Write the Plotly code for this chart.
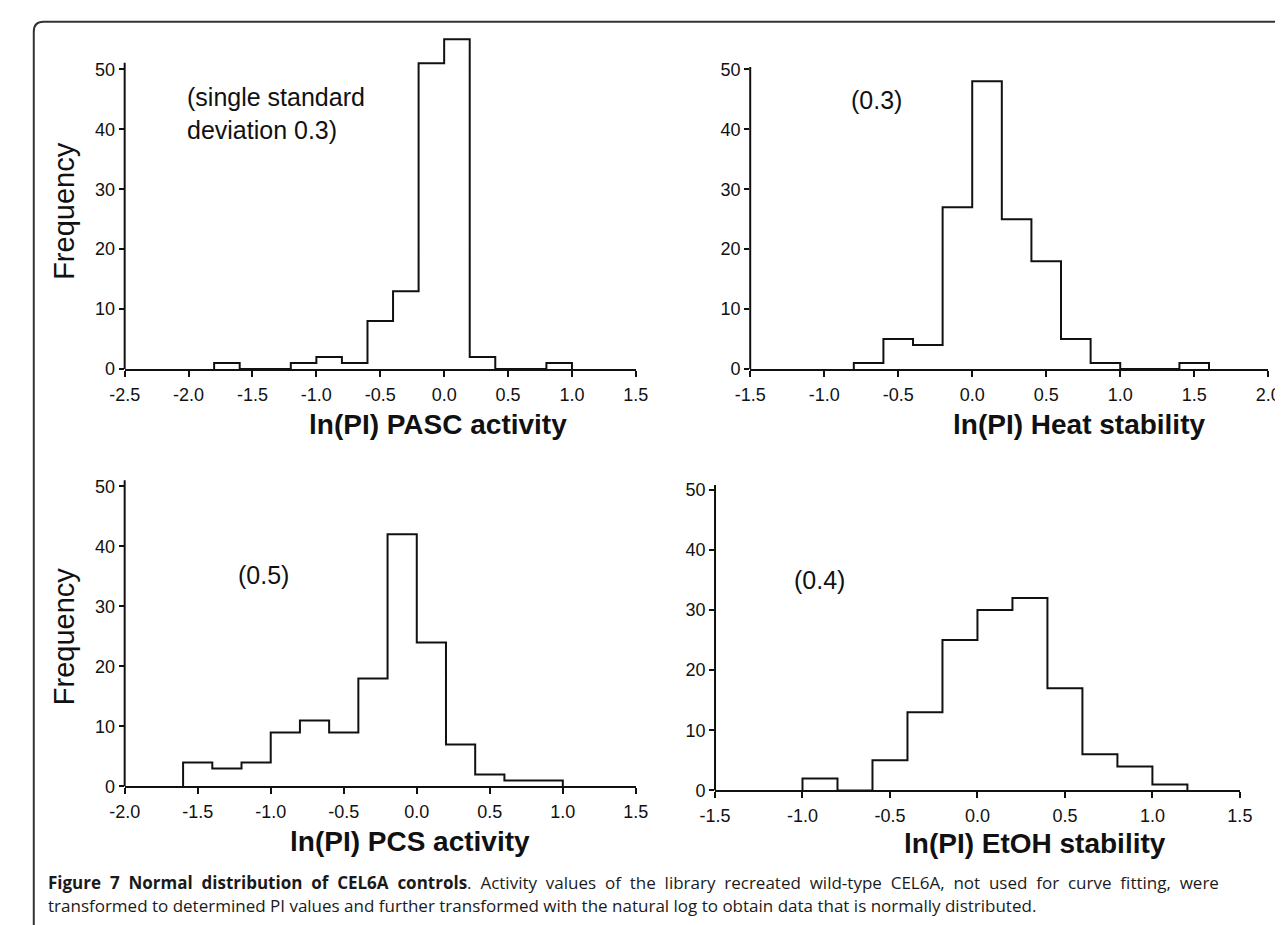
import plotly.graph_objects as go

# ---------------- data ----------------
bin_width = 0.2

pasc_start = -1.8
pasc_counts = [1, 0, 0, 1, 2, 1, 8, 13, 51, 55, 2, 0, 0, 1]

heat_start = -0.8
heat_counts = [1, 5, 4, 27, 48, 25, 18, 5, 1, 0, 0, 1]

pcs_start = -1.6
pcs_counts = [4, 3, 4, 9, 11, 9, 18, 42, 24, 7, 2, 1, 1]

etoh_start = -1.0
etoh_counts = [2, 0, 5, 13, 25, 30, 32, 17, 6, 4, 1]

pasc_xticks = [-2.5, -2.0, -1.5, -1.0, -0.5, 0.0, 0.5, 1.0, 1.5]
heat_xticks = [-1.5, -1.0, -0.5, 0.0, 0.5, 1.0, 1.5, 2.0]
pcs_xticks = [-2.0, -1.5, -1.0, -0.5, 0.0, 0.5, 1.0, 1.5]
etoh_xticks = [-1.5, -1.0, -0.5, 0.0, 0.5, 1.0, 1.5]
y_ticks = [0, 10, 20, 30, 40, 50]

titles = ["ln(PI) PASC activity", "ln(PI) Heat stability",
          "ln(PI) PCS activity", "ln(PI) EtOH stability"]
notes = ["(single standard<br>deviation 0.3)", "(0.3)", "(0.5)", "(0.4)"]
y_title = "Frequency"
caption_bold = "Figure 7 Normal distribution of CEL6A controls"
caption1_rest = (". Activity values of the library recreated wild-type CEL6A, "
                 "not used for curve fitting, were")
caption2 = ("transformed to determined PI values and further transformed with the natural "
            "log to obtain data that is normally distributed.")

# ---------------- layout helpers ----------------
W, H = 1283, 925
def px(x):
    return x / W
def py(y):
    return 1 - y / H

FONT = "Liberation Sans, Arial, sans-serif"
INK = "#111111"
Y_TOP = 56.5

# pixel geometry of each panel: x-axis left/right px, y0 px, y50 px
panels = [
    dict(start=pasc_start, counts=pasc_counts, xt=pasc_xticks, xl=103, xr=626, y0=365, y50=62,
         note_x=-2.03, note_y=42.6, note_anchor="left", title_x=424, title_y=421, spine=51.1),
    dict(start=heat_start, counts=heat_counts, xt=heat_xticks, xl=743, xr=1273, y0=365, y50=62,
         note_x=-0.65, note_y=44.9, note_anchor="center", title_x=1079, title_y=421, spine=50.4),
    dict(start=pcs_start, counts=pcs_counts, xt=pcs_xticks, xl=103, xr=626, y0=787, y50=483.5,
         note_x=-1.05, note_y=35.2, note_anchor="center", title_x=395, title_y=843, spine=51),
    dict(start=etoh_start, counts=etoh_counts, xt=etoh_xticks, xl=707, xr=1244, y0=791, y50=487,
         note_x=-0.905, note_y=35.0, note_anchor="center", title_x=1034, title_y=845, spine=50.8),
]

fig = go.Figure()
shapes = []
annotations = []

for i, p in enumerate(panels):
    n = i + 1
    xa = "x" if n == 1 else f"x{n}"
    ya = "y" if n == 1 else f"y{n}"
    edges = [round(p["start"] + bin_width * k, 3) for k in range(len(p["counts"]) + 1)]
    xs = [edges[0]] + edges
    ys = [0] + list(p["counts"]) + [0]
    fig.add_trace(go.Scatter(x=xs, y=ys, mode="lines", line=dict(shape="hv", color=INK, width=2),
                             xaxis=xa, yaxis=ya, showlegend=False, hoverinfo="skip"))

    unit = (p["y0"] - p["y50"]) / 50.0
    ytop_px = p["y0"] - Y_TOP * unit
    xkey = "xaxis" if n == 1 else f"xaxis{n}"
    ykey = "yaxis" if n == 1 else f"yaxis{n}"
    fig.update_layout(**{
        xkey: dict(domain=[px(p["xl"]), px(p["xr"])], range=[p["xt"][0], p["xt"][-1]],
                   anchor=ya, showline=True, linewidth=2, linecolor=INK, ticks="outside",
                   ticklen=6, tickwidth=2, tickcolor=INK, tickvals=p["xt"],
                   ticktext=[f"{v:.1f}" for v in p["xt"]], showgrid=False, zeroline=False,
                   tickfont=dict(family=FONT, size=18, color=INK), ticklabelstandoff=2),
        ykey: dict(domain=[py(p["y0"]), py(ytop_px)], range=[0, Y_TOP], anchor=xa,
                   showline=False, ticks="outside", ticklen=5, tickwidth=2, tickcolor=INK,
                   tickvals=y_ticks, ticktext=[str(v) for v in y_ticks], showgrid=False,
                   zeroline=False, tickfont=dict(family=FONT, size=18, color=INK)),
    })
    # y spine (stops at ~51 like the original)
    shapes.append(dict(type="line", xref=f"{xa} domain", yref=ya, x0=0, x1=0, y0=0,
                       y1=p["spine"], line=dict(color=INK, width=2)))
    # annotation inside panel
    annotations.append(dict(text=notes[i], xref=xa, yref=ya, x=p["note_x"], y=p["note_y"],
                            xanchor=p["note_anchor"], yanchor="middle", align="left",
                            showarrow=False, font=dict(family=FONT, size=25, color=INK)))
    # x title
    annotations.append(dict(text=f"<b>{titles[i]}</b>", xref="paper", yref="paper",
                            x=px(p["title_x"]), y=py(p["title_y"]), xanchor="center",
                            yanchor="middle", showarrow=False,
                            font=dict(family=FONT, size=28, color=INK)))

# y titles
for yc in (205, 635):
    annotations.append(dict(text=y_title, xref="paper", yref="paper", x=px(41), y=py(yc),
                            xanchor="center", yanchor="middle", textangle=-90, showarrow=False,
                            font=dict(family=FONT, size=29, color=INK)))

# caption (first line widened with double word gaps to imitate justified text)
CAP_FONT = "Open Sans, Noto Sans, sans-serif"
def widen(s):
    return s.replace(" ", "  ")
caption1 = f"<b>{widen(caption_bold)}</b>{widen(caption1_rest)}"
annotations.append(dict(text=caption1, xref="paper", yref="paper", x=px(22), y=py(884),
                        xanchor="left", yanchor="middle", showarrow=False, align="left",
                        font=dict(family=CAP_FONT, size=17, color="#1a1a1a")))
annotations.append(dict(text=caption2, xref="paper", yref="paper", x=px(22), y=py(907),
                        xanchor="left", yanchor="middle", showarrow=False, align="left",
                        font=dict(family=CAP_FONT, size=17, color="#1a1a1a")))

# rounded frame (open to the right and bottom, like the cropped original)
frame = (f"M {px(10)},{py(960)} L {px(10)},{py(24)} Q {px(10)},{py(14)} {px(20)},{py(14)} "
         f"L {px(1320)},{py(14)}")
shapes.append(dict(type="path", xref="paper", yref="paper", path=frame,
                   line=dict(color="#333333", width=2)))

fig.update_layout(width=W, height=H, margin=dict(l=0, r=0, t=0, b=0),
                  paper_bgcolor="white", plot_bgcolor="white",
                  shapes=shapes, annotations=annotations, showlegend=False)

fig.write_html("out.html")
